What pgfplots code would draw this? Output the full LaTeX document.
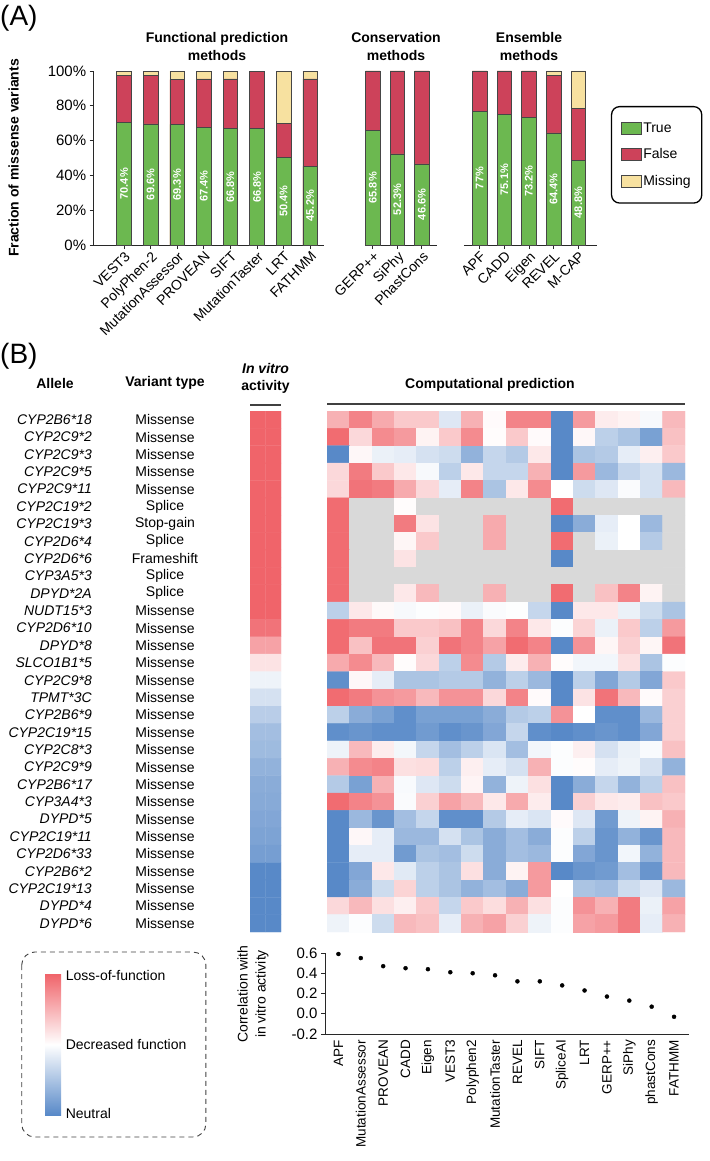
\documentclass[border=0pt]{standalone}
\usepackage{pgfplots}
\pgfplotsset{compat=1.18}
\usepackage{pgfplotstable}
\usepackage{fontspec}
\setmainfont{Liberation Sans}
\newcommand{\fs}[1]{\fontsize{#1}{#1}\selectfont}
\definecolor{cTrue}{RGB}{108,184,80}
\definecolor{cFalse}{RGB}{205,66,90}
\definecolor{cMiss}{RGB}{247,225,160}
\definecolor{cEdge}{RGB}{70,70,70}
\definecolor{hBlue}{RGB}{88,137,200}
\definecolor{hRed}{RGB}{240,100,106}
\definecolor{axc}{RGB}{40,40,40}

\pgfplotsset{
  /pgf/number format/assume math mode=true,
  swatch/.style={legend image code/.code={\draw[##1, line width=0.7pt, sharp corners] (0pt,-6pt) rectangle (20pt,6pt);}},
  barA/.style={ybar, bar width=14.5pt, bar shift=0pt, draw=cEdge, line width=0.6pt},
  labs/.style={draw=none, mark=none, forget plot, point meta=explicit symbolic,
     nodes near coords={\pgfplotspointmeta\%},
     nodes near coords style={rotate=90, anchor=center, text=white, font=\bfseries\fs{11}}},
  panelA/.style={scale only axis, height=174pt, ymin=0, ymax=100, clip=false,
     tick align=outside, major tick length=4pt,
     tick style={line width=0.9pt, axc}, axis line style={line width=0.9pt, axc},
     xticklabel style={rotate=45, anchor=north east, font=\fs{14}, inner sep=1pt}},
  hmap/.style={scale only axis, height=521pt, ymin=-0.5, ymax=29.5, y dir=reverse,
     axis line style={draw=none}, tick style={draw=none}, xtick=\empty, ytick={0,...,29},
     colormap={hm}{rgb255(0pt)=(88,137,200); rgb255(100pt)=(255,255,255); rgb255(200pt)=(240,100,106); rgb255(201pt)=(217,217,217); rgb255(210pt)=(217,217,217)},
     point meta min=-1, point meta max=1.1}
}

\pgfplotstableread{
x t f m
0 70.4 27.1 2.5
1 69.6 27.9 2.5
2 69.3 25.7 5.0
3 67.4 28.1 4.5
4 66.8 28.7 4.5
5 66.8 33.0 0.2
6 50.4 19.6 30.0
7 45.2 50.3 4.5
}\grpA
\pgfplotstableread{
x t f m
0 65.8 34.2 0
1 52.3 47.7 0
2 46.6 53.4 0
}\grpB
\pgfplotstableread{
x t f m
0 77 23.0 0
1 75.1 24.9 0
2 73.2 26.8 0
3 64.4 33.1 2.5
4 48.8 29.7 21.5
}\grpC
\pgfplotstableread{
x r
0 0.59
1 0.55
2 0.47
3 0.45
4 0.44
5 0.41
6 0.40
7 0.38
8 0.32
9 0.32
10 0.28
11 0.23
12 0.17
13 0.13
14 0.07
15 -0.03
}\corr

\begin{document}
\begin{tikzpicture}
\path[use as bounding box] (0pt,0pt) rectangle (709pt,-1161pt);

% ---------------- Panel A ----------------
\node[anchor=west, inner sep=0pt, font=\fs{28}] at (0pt,-18pt) {(A)};
\node[align=center, font=\bfseries\fontsize{14}{18}\selectfont] at (217pt,-46pt) {Functional prediction\\methods};
\node[align=center, font=\bfseries\fontsize{14}{18}\selectfont] at (396pt,-46pt) {Conservation\\methods};
\node[align=center, font=\bfseries\fontsize{14}{18}\selectfont] at (529pt,-46pt) {Ensemble\\methods};
\node[rotate=90, font=\bfseries\fs{14}] at (13.5pt,-158pt) {Fraction of missense variants};

\begin{axis}[panelA, at={(93.7pt,-245pt)}, anchor=south west, width=229.8pt,
  xmin=-1.14, xmax=7.5, axis x line*=bottom, axis y line*=left,
  xtick={0,...,7}, xticklabels={VEST3,PolyPhen-2,MutationAssessor,PROVEAN,SIFT,MutationTaster,LRT,FATHMM},
  ytick={0,20,...,100}, yticklabel={\pgfmathprintnumber{\tick}\%}, yticklabel style={font=\fs{15}}]
\addplot[barA, fill=cMiss] table[x=x, y expr=\thisrow{t}+\thisrow{f}+\thisrow{m}] {\grpA};
\addplot[barA, fill=cFalse] table[x=x, y expr=\thisrow{t}+\thisrow{f}] {\grpA};
\addplot[barA, fill=cTrue] table[x=x, y=t] {\grpA};
\addplot[labs] table[x=x, y expr=\thisrow{t}/2, meta=t] {\grpA};
\end{axis}

\begin{axis}[panelA, at={(365.6pt,-245pt)}, anchor=south west, width=71.1pt,
  xmin=-0.30, xmax=2.61, axis x line*=bottom, axis y line=none, ytick=\empty,
  xtick={0,1,2}, xticklabels={GERP++,SiPhy,PhastCons}]
\addplot[barA, fill=cMiss] table[x=x, y expr=\thisrow{t}+\thisrow{f}+\thisrow{m}] {\grpB};
\addplot[barA, fill=cFalse] table[x=x, y expr=\thisrow{t}+\thisrow{f}] {\grpB};
\addplot[barA, fill=cTrue] table[x=x, y=t] {\grpB};
\addplot[labs] table[x=x, y expr=\thisrow{t}/2, meta=t] {\grpB};
\end{axis}

\begin{axis}[panelA, at={(463.8pt,-245pt)}, anchor=south west, width=133.5pt,
  xmin=-0.64, xmax=4.77, axis x line*=bottom, axis y line=none, ytick=\empty,
  xtick={0,...,4}, xticklabels={APF,CADD,Eigen,REVEL,M-CAP},
  legend style={at={(1.102,0.799)}, anchor=north west, draw=black, line width=1.3pt, rounded corners=8pt,
     inner xsep=9pt, inner ysep=14pt, font=\fs{14}, row sep=11pt,
     /tikz/every even column/.append style={column sep=7pt}},
  legend cell align=left, reverse legend]
\addplot[barA, fill=cMiss, swatch] table[x=x, y expr=\thisrow{t}+\thisrow{f}+\thisrow{m}] {\grpC};
\addplot[barA, fill=cFalse, swatch] table[x=x, y expr=\thisrow{t}+\thisrow{f}] {\grpC};
\addplot[barA, fill=cTrue, swatch] table[x=x, y=t] {\grpC};
\addplot[labs] table[x=x, y expr=\thisrow{t}/2, meta=t] {\grpC};
\legend{Missing,False,True}
\end{axis}

% ---------------- Panel B ----------------
\node[anchor=west, inner sep=0pt, font=\fs{28}] at (0pt,-356.5pt) {(B)};
\node[font=\bfseries\fs{14}] at (55pt,-383pt) {Allele};
\node[font=\bfseries\fs{14}] at (165pt,-383pt) {Variant type};
\node[align=center, font=\bfseries\fontsize{14}{17}\selectfont] at (265.5pt,-378pt) {\textit{In vitro}\\activity};
\node[font=\bfseries\fs{14}] at (490pt,-385pt) {Computational prediction};
\draw[line width=2pt, black!75] (250pt,-405pt) -- (281pt,-405pt);
\draw[line width=2pt, black!75] (327pt,-404pt) -- (685pt,-404pt);

% in vitro activity column (with allele names)
\begin{axis}[hmap, at={(250pt,-932pt)}, anchor=south west, width=31pt, xmin=-0.5, xmax=1.5,
  yticklabel style={anchor=east, xshift=-157.5pt, inner sep=0.5pt, font=\itshape\fs{14}},
  yticklabels={CYP2B6*18,CYP2C9*2,CYP2C9*3,CYP2C9*5,CYP2C9*11,CYP2C19*2,CYP2C19*3,CYP2D6*4,CYP2D6*6,CYP3A5*3,DPYD*2A,NUDT15*3,CYP2D6*10,DPYD*8,SLCO1B1*5,CYP2C9*8,TPMT*3C,CYP2B6*9,CYP2C19*15,CYP2C8*3,CYP2C9*9,CYP2B6*17,CYP3A4*3,DYPD*5,CYP2C19*11,CYP2D6*33,CYP2B6*2,CYP2C19*13,DYPD*4,DYPD*6}]
\addplot[matrix plot*, mesh/cols=2, point meta=explicit] coordinates {
(0,0)[1] (1,0)[1]
(0,1)[1] (1,1)[1]
(0,2)[1] (1,2)[1]
(0,3)[1] (1,3)[1]
(0,4)[1] (1,4)[1]
(0,5)[1] (1,5)[1]
(0,6)[1] (1,6)[1]
(0,7)[1] (1,7)[1]
(0,8)[1] (1,8)[1]
(0,9)[1] (1,9)[1]
(0,10)[1] (1,10)[1]
(0,11)[1] (1,11)[1]
(0,12)[0.9] (1,12)[0.9]
(0,13)[0.6] (1,13)[0.6]
(0,14)[0.18] (1,14)[0.18]
(0,15)[-0.1] (1,15)[-0.1]
(0,16)[-0.25] (1,16)[-0.25]
(0,17)[-0.42] (1,17)[-0.42]
(0,18)[-0.55] (1,18)[-0.55]
(0,19)[-0.58] (1,19)[-0.58]
(0,20)[-0.65] (1,20)[-0.65]
(0,21)[-0.7] (1,21)[-0.7]
(0,22)[-0.72] (1,22)[-0.72]
(0,23)[-0.75] (1,23)[-0.75]
(0,24)[-0.78] (1,24)[-0.78]
(0,25)[-0.82] (1,25)[-0.82]
(0,26)[-1] (1,26)[-1]
(0,27)[-1] (1,27)[-1]
(0,28)[-1] (1,28)[-1]
(0,29)[-1] (1,29)[-1]
};
\end{axis}

% computational prediction heatmap (with variant types); 1.1 = not available (grey)
\begin{axis}[hmap, at={(327pt,-932pt)}, anchor=south west, width=358pt, xmin=-0.5, xmax=15.5,
  yticklabel style={anchor=center, xshift=-162pt, inner sep=0.5pt, font=\fs{14}},
  yticklabels={Missense,Missense,Missense,Missense,Missense,Splice,Stop-gain,Splice,Frameshift,Splice,Splice,Missense,Missense,Missense,Missense,Missense,Missense,Missense,Missense,Missense,Missense,Missense,Missense,Missense,Missense,Missense,Missense,Missense,Missense,Missense}]
\addplot[matrix plot*, mesh/cols=16, point meta=explicit] coordinates {
(0,0)[0.5] (1,0)[0.8] (2,0)[0.55] (3,0)[0.35] (4,0)[0.35] (5,0)[-0.2] (6,0)[0.5] (7,0)[0.03] (8,0)[0.8] (9,0)[0.8] (10,0)[-1] (11,0)[0.65] (12,0)[0.12] (13,0)[0.08] (14,0)[-0.05] (15,0)[0.45]
(0,1)[0.95] (1,1)[0.25] (2,1)[0.75] (3,1)[0.65] (4,1)[0.08] (5,1)[0.35] (6,1)[0.75] (7,1)[0.02] (8,1)[0.35] (9,1)[0.03] (10,1)[-1] (11,1)[0.05] (12,1)[-0.4] (13,1)[-0.5] (14,1)[-0.8] (15,1)[0.4]
(0,2)[-1] (1,2)[0.05] (2,2)[-0.12] (3,2)[-0.15] (4,2)[-0.25] (5,2)[-0.3] (6,2)[-0.65] (7,2)[-0.35] (8,2)[-0.45] (9,2)[0.15] (10,2)[-1] (11,2)[-0.5] (12,2)[-0.45] (13,2)[-0.15] (14,2)[0.1] (15,2)[0.35]
(0,3)[0.25] (1,3)[0.85] (2,3)[0.35] (3,3)[0.15] (4,3)[-0.05] (5,3)[-0.4] (6,3)[0.15] (7,3)[-0.35] (8,3)[-0.35] (9,3)[0.5] (10,3)[-1] (11,3)[0.65] (12,3)[-0.6] (13,3)[-0.35] (14,3)[-0.25] (15,3)[-0.6]
(0,4)[0.25] (1,4)[0.9] (2,4)[0.85] (3,4)[0.55] (4,4)[0.25] (5,4)[-0.15] (6,4)[0.8] (7,4)[-0.5] (8,4)[0.15] (9,4)[0.75] (10,4)[0] (11,4)[-0.3] (12,4)[-0.2] (13,4)[-0.03] (14,4)[-0.25] (15,4)[0.45]
(0,5)[0.95] (1,5)[1.1] (2,5)[1.1] (3,5)[0.02] (4,5)[1.1] (5,5)[1.1] (6,5)[1.1] (7,5)[1.1] (8,5)[1.1] (9,5)[1.1] (10,5)[0.95] (11,5)[1.1] (12,5)[1.1] (13,5)[1.1] (14,5)[1.1] (15,5)[1.1]
(0,6)[0.95] (1,6)[1.1] (2,6)[1.1] (3,6)[0.85] (4,6)[0.18] (5,6)[1.1] (6,6)[1.1] (7,6)[0.55] (8,6)[1.1] (9,6)[1.1] (10,6)[-1] (11,6)[-0.7] (12,6)[-0.15] (13,6)[0] (14,6)[-0.6] (15,6)[1.1]
(0,7)[0.95] (1,7)[1.1] (2,7)[1.1] (3,7)[0.06] (4,7)[0.35] (5,7)[1.1] (6,7)[1.1] (7,7)[0.55] (8,7)[1.1] (9,7)[1.1] (10,7)[0.95] (11,7)[1.1] (12,7)[-0.12] (13,7)[0] (14,7)[-0.45] (15,7)[1.1]
(0,8)[0.95] (1,8)[1.1] (2,8)[1.1] (3,8)[0.18] (4,8)[1.1] (5,8)[1.1] (6,8)[1.1] (7,8)[1.1] (8,8)[1.1] (9,8)[1.1] (10,8)[-1] (11,8)[1.1] (12,8)[1.1] (13,8)[1.1] (14,8)[1.1] (15,8)[1.1]
(0,9)[0.95] (1,9)[1.1] (2,9)[1.1] (3,9)[1.1] (4,9)[1.1] (5,9)[1.1] (6,9)[1.1] (7,9)[1.1] (8,9)[1.1] (9,9)[1.1] (10,9)[1.1] (11,9)[1.1] (12,9)[1.1] (13,9)[1.1] (14,9)[1.1] (15,9)[1.1]
(0,10)[0.95] (1,10)[1.1] (2,10)[1.1] (3,10)[0.15] (4,10)[0.45] (5,10)[1.1] (6,10)[1.1] (7,10)[0.5] (8,10)[1.1] (9,10)[1.1] (10,10)[0.95] (11,10)[1.1] (12,10)[0.4] (13,10)[0.8] (14,10)[0.08] (15,10)[1.1]
(0,11)[-0.4] (1,11)[0.15] (2,11)[0.04] (3,11)[-0.05] (4,11)[-0.02] (5,11)[0.03] (6,11)[-0.12] (7,11)[-0.03] (8,11)[-0.01] (9,11)[-0.35] (10,11)[-1] (11,11)[0.15] (12,11)[0.15] (13,11)[-0.12] (14,11)[-0.3] (15,11)[-0.5]
(0,12)[0.95] (1,12)[0.85] (2,12)[0.85] (3,12)[0.35] (4,12)[0.35] (5,12)[0.4] (6,12)[0.8] (7,12)[0.25] (8,12)[0.8] (9,12)[0.15] (10,12)[-0.02] (11,12)[0.28] (12,12)[-0.12] (13,12)[0.35] (14,12)[-0.4] (15,12)[0.65]
(0,13)[0.95] (1,13)[0.4] (2,13)[0.9] (3,13)[0.9] (4,13)[0.3] (5,13)[0.9] (6,13)[0.8] (7,13)[0.6] (8,13)[0.95] (9,13)[0.8] (10,13)[-1] (11,13)[0.7] (12,13)[0.06] (13,13)[0.3] (14,13)[0.06] (15,13)[0.9]
(0,14)[0.55] (1,14)[0.75] (2,14)[0.45] (3,14)[0.02] (4,14)[0.25] (5,14)[-0.4] (6,14)[0.75] (7,14)[-0.45] (8,14)[0.12] (9,14)[0.5] (10,14)[0.02] (11,14)[-0.08] (12,14)[-0.08] (13,14)[0.2] (14,14)[-0.5] (15,14)[-0.02]
(0,15)[-0.95] (1,15)[0.05] (2,15)[-0.15] (3,15)[-0.5] (4,15)[-0.5] (5,15)[-0.45] (6,15)[-0.45] (7,15)[-0.65] (8,15)[-0.4] (9,15)[-0.6] (10,15)[-1] (11,15)[-0.4] (12,15)[-0.75] (13,15)[-0.45] (14,15)[-0.75] (15,15)[0.35]
(0,16)[0.95] (1,16)[0.85] (2,16)[0.7] (3,16)[0.65] (4,16)[0.45] (5,16)[0.7] (6,16)[0.7] (7,16)[0.25] (8,16)[0.8] (9,16)[0.03] (10,16)[-1] (11,16)[0.18] (12,16)[0.9] (13,16)[0.45] (14,16)[0.03] (15,16)[0.3]
(0,17)[-0.4] (1,17)[-0.7] (2,17)[-0.8] (3,17)[-0.95] (4,17)[-0.8] (5,17)[-0.8] (6,17)[-0.8] (7,17)[-0.7] (8,17)[-0.45] (9,17)[-0.4] (10,17)[0.7] (11,17)[0] (12,17)[-0.95] (13,17)[-0.95] (14,17)[-0.6] (15,17)[0.3]
(0,18)[-0.95] (1,18)[-0.9] (2,18)[-0.95] (3,18)[-0.95] (4,18)[-0.85] (5,18)[-0.95] (6,18)[-0.9] (7,18)[-0.75] (8,18)[-0.35] (9,18)[-0.95] (10,18)[-1] (11,18)[-0.95] (12,18)[-0.9] (13,18)[-0.95] (14,18)[-0.75] (15,18)[0.3]
(0,19)[-0.1] (1,19)[0.45] (2,19)[0.12] (3,19)[-0.07] (4,19)[-0.35] (5,19)[-0.55] (6,19)[-0.4] (7,19)[-0.22] (8,19)[-0.55] (9,19)[-0.08] (10,19)[-0.02] (11,19)[0.1] (12,19)[-0.25] (13,19)[-0.12] (14,19)[-0.04] (15,19)[0.4]
(0,20)[0.5] (1,20)[0.75] (2,20)[0.8] (3,20)[0.2] (4,20)[0.22] (5,20)[-0.4] (6,20)[0.1] (7,20)[-0.15] (8,20)[-0.25] (9,20)[0.5] (10,20)[-0.02] (11,20)[0.02] (12,20)[-0.15] (13,20)[-0.1] (14,20)[-0.25] (15,20)[-0.65]
(0,21)[-0.45] (1,21)[-0.8] (2,21)[0.5] (3,21)[-0.04] (4,21)[-0.2] (5,21)[-0.3] (6,21)[0.07] (7,21)[-0.65] (8,21)[-0.1] (9,21)[0.2] (10,21)[-1] (11,21)[-0.7] (12,21)[-0.35] (13,21)[-0.65] (14,21)[-0.4] (15,21)[0.4]
(0,22)[0.95] (1,22)[0.8] (2,22)[0.7] (3,22)[-0.03] (4,22)[0.3] (5,22)[0.6] (6,22)[0.45] (7,22)[0.15] (8,22)[0.55] (9,22)[0.12] (10,22)[-1] (11,22)[0.3] (12,22)[0.15] (13,22)[0.12] (14,22)[0.4] (15,22)[0.35]
(0,23)[-1] (1,23)[-0.6] (2,23)[-0.9] (3,23)[-0.55] (4,23)[-0.35] (5,23)[-0.95] (6,23)[-0.95] (7,23)[-0.45] (8,23)[-0.15] (9,23)[-0.22] (10,23)[0.03] (11,23)[-0.2] (12,23)[-0.85] (13,23)[-0.1] (14,23)[0.08] (15,23)[0.5]
(0,24)[-1] (1,24)[0.05] (2,24)[-0.15] (3,24)[-0.6] (4,24)[-0.6] (5,24)[-0.25] (6,24)[-0.5] (7,24)[-0.7] (8,24)[-0.55] (9,24)[-0.7] (10,24)[-0.02] (11,24)[-0.4] (12,24)[-0.9] (13,24)[-0.65] (14,24)[-0.9] (15,24)[0.45]
(0,25)[-1] (1,25)[-0.15] (2,25)[-0.15] (3,25)[-0.85] (4,25)[-0.5] (5,25)[-0.55] (6,25)[-0.3] (7,25)[-0.7] (8,25)[-0.55] (9,25)[-0.6] (10,25)[-0.02] (11,25)[-0.75] (12,25)[-0.9] (13,25)[-0.08] (14,25)[-0.65] (15,25)[0.45]
(0,26)[-1] (1,26)[-0.75] (2,26)[0.15] (3,26)[-0.18] (4,26)[-0.4] (5,26)[-0.5] (6,26)[0.2] (7,26)[-0.7] (8,26)[0.08] (9,26)[0.65] (10,26)[-1] (11,26)[-0.9] (12,26)[-0.85] (13,26)[-0.55] (14,26)[-0.9] (15,26)[0.45]
(0,27)[-1] (1,27)[-0.7] (2,27)[-0.3] (3,27)[0.28] (4,27)[-0.4] (5,27)[-0.5] (6,27)[-0.65] (7,27)[-0.55] (8,27)[-0.7] (9,27)[0.65] (10,27)[0] (11,27)[-0.5] (12,27)[-0.55] (13,27)[-0.3] (14,27)[-0.2] (15,27)[-0.6]
(0,28)[0.25] (1,28)[0.45] (2,28)[0.2] (3,28)[0.1] (4,28)[0.35] (5,28)[-0.35] (6,28)[0.35] (7,28)[0.22] (8,28)[0.5] (9,28)[0.2] (10,28)[-0.02] (11,28)[0.7] (12,28)[0.5] (13,28)[0.85] (14,28)[-0.12] (15,28)[0.6]
(0,29)[-0.1] (1,29)[-0.02] (2,29)[-0.3] (3,29)[0.45] (4,29)[0.4] (5,29)[-0.15] (6,29)[0.5] (7,29)[0.6] (8,29)[0.3] (9,29)[-0.1] (10,29)[-0.02] (11,29)[0.6] (12,29)[0.65] (13,29)[0.85] (14,29)[-0.15] (15,29)[0.5]
};
\end{axis}

% colour key
\draw[dash pattern=on 5pt off 4pt, rounded corners=13pt, line width=0.9pt, black!75] (21.7pt,-952pt) rectangle (205.9pt,-1137pt);
\shade[top color=hRed, bottom color=hBlue, middle color=white] (45.2pt,-974pt) rectangle (61.1pt,-1115pt);
\node[anchor=west, font=\fs{14}, inner sep=0pt] at (65.6pt,-975pt) {Loss-of-function};
\node[anchor=west, font=\fs{14}, inner sep=0pt] at (65.6pt,-1044pt) {Decreased function};
\node[anchor=west, font=\fs{14}, inner sep=0pt] at (65.6pt,-1113pt) {Neutral};

% correlation dot plot
\node[rotate=90, align=center, font=\fontsize{14}{18}\selectfont] at (253pt,-994pt) {Correlation with\\in vitro activity};
\begin{axis}[at={(325pt,-1034pt)}, anchor=south west, scale only axis, width=363.7pt, height=81pt,
  xmin=-0.6, xmax=15.655, ymin=-0.2, ymax=0.6, clip=false,
  axis x line*=bottom, axis y line*=left,
  axis line style={line width=0.9pt, axc}, tick align=outside, major tick length=4pt,
  tick style={line width=0.9pt, axc}, x tick style={draw=none},
  xtick={0,...,15},
  xticklabels={APF,MutationAssessor,PROVEAN,CADD,Eigen,VEST3,Polyphen2,MutationTaster,REVEL,SIFT,SpliceAI,LRT,GERP++,SiPhy,phastCons,FATHMM},
  xticklabel style={rotate=90, anchor=east, font=\fs{13.5}, inner sep=2pt},
  ytick={-0.2,0,0.2,0.4,0.6}, yticklabel style={font=\fs{15}, /pgf/number format/.cd, fixed, fixed zerofill, precision=1}]
\addplot[only marks, mark=*, mark size=2pt, black] table[x=x, y=r] {\corr};
\end{axis}
\end{tikzpicture}
\end{document}
